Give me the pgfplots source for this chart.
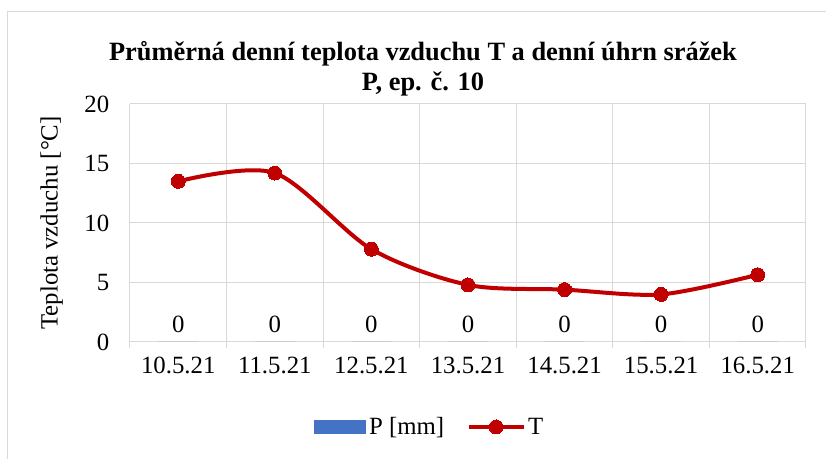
\documentclass[border=0pt]{standalone}
\usepackage{pgfplots}
\pgfplotsset{compat=1.18}
\usepackage{fontspec}
\setmainfont{Liberation Serif}
\definecolor{tred}{HTML}{C00000}
\definecolor{pblue}{HTML}{4472C4}
\definecolor{gridgray}{HTML}{D9D9D9}
\pgfplotsset{
    barlegend/.style={legend image code/.code={\fill[pblue] (0pt,-5pt) rectangle (39pt,5pt);}},
    linelegend/.style={legend image code/.code={\draw[##1, mark repeat=2, mark phase=2]
        plot coordinates {(0pt,0pt) (20.5pt,0pt) (41pt,0pt)};}},
}

\begin{document}
\begin{tikzpicture}
% picture 826x459 px, 1 px = 0.75pt
\useasboundingbox (0pt,0pt) rectangle (619.5pt,344.25pt);
\draw[gridgray, line width=0.75pt] (5.25pt,0pt) -- (5.25pt,335.25pt) -- (619.5pt,335.25pt);
\node[font=\fontsize{19.8}{22.5}\selectfont\bfseries, align=center] at (317.25pt,293pt)
  {Průměrná denní teplota vzduchu T a denní úhrn srážek\\P, ep. č. 10};
\begin{axis}[
    at={(97.5pt,87.75pt)}, anchor=south west,
    scale only axis, width=507pt, height=178.5pt,
    xmin=-0.5, xmax=6.5, ymin=0, ymax=20,
    xtick={0,...,6},
    xticklabels={10.5.21,11.5.21,12.5.21,13.5.21,14.5.21,15.5.21,16.5.21},
    minor xtick={-0.5,0.5,...,6.5},
    ytick={0,5,...,20},
    major tick length=0pt, minor tick length=4.5pt,
    tick align=outside, xtick pos=bottom, ytick pos=left,
    minor tick style={gridgray, line width=0.75pt},
    ymajorgrids, xminorgrids,
    grid style={gridgray, line width=0.75pt},
    axis line style={draw=none},
    tick label style={font=\fontsize{18.6}{22}\selectfont},
    xticklabel style={yshift=-8pt},
    yticklabel style={xshift=-12pt},
    /pgf/number format/assume math mode=true,
    ylabel={Teplota vzduchu [°C]},
    ylabel style={at={(axis description cs:-0.116,0.5)}, anchor=center,
        font=\fontsize{18.6}{22}\selectfont},
    legend style={at={(axis description cs:0.444,-0.357)}, anchor=center,
        draw=none, fill=none, legend columns=2,
        font=\fontsize{18.6}{22}\selectfont,
        /tikz/every even column/.append style={column sep=15pt}},
]
\addplot[ybar, bar width=30pt, fill=pblue, draw=none, barlegend,
    nodes near coords,
    nodes near coords style={font=\fontsize{18.6}{22}\selectfont, anchor=center, yshift=13.5pt, text=black}]
    coordinates {(0,0) (1,0) (2,0) (3,0) (4,0) (5,0) (6,0)};
\addlegendentry{P [mm]}
\addplot[tred, line width=3pt, smooth, mark=*, mark size=5.25pt,
    mark options={fill=tred, draw=tred, line width=0pt}, linelegend]
    coordinates {(0,13.5) (1,14.2) (2,7.8) (3,4.8) (4,4.4) (5,4.0) (6,5.65)};
\addlegendentry{T}
\end{axis}
\end{tikzpicture}
\end{document}
